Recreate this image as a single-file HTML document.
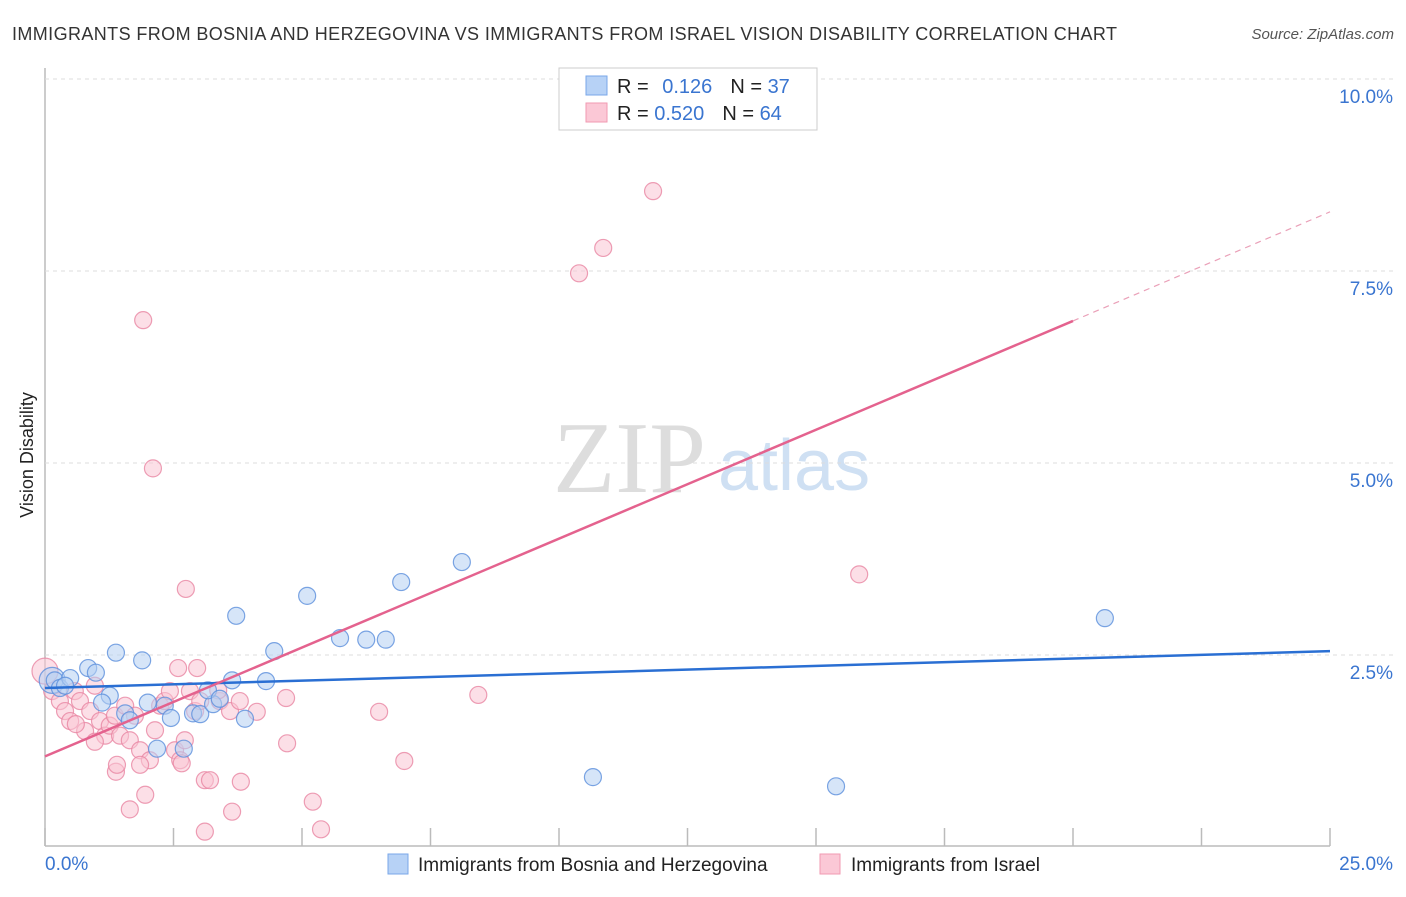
<!DOCTYPE html>
<html><head><meta charset="utf-8"><style>
body{margin:0;background:#fff;font-family:"Liberation Sans",sans-serif}
</style></head><body>
<svg id="c" width="1406" height="892" xmlns="http://www.w3.org/2000/svg" style="font-family:'Liberation Sans',sans-serif">
<text x="12" y="40" font-size="18" fill="#333" textLength="1105">IMMIGRANTS FROM BOSNIA AND HERZEGOVINA VS IMMIGRANTS FROM ISRAEL VISION DISABILITY CORRELATION CHART</text>
<text x="1394" y="39" font-size="15" fill="#555" font-style="italic" text-anchor="end">Source: ZipAtlas.com</text>
<text x="33" y="455" font-size="18" fill="#222" text-anchor="middle" transform="rotate(-90 33 455)">Vision Disability</text>
<text x="553" y="492" font-size="102" fill="#ddd" font-family="Liberation Serif">ZIP</text>
<text x="718" y="490" font-size="72" fill="#cfe0f3">atlas</text>
<g id="grid"></g><g id="pts"></g><g id="lines"></g>
<rect x="559" y="68" width="258" height="62" fill="#fff" stroke="#ccc"/>
<rect x="586" y="76" width="21" height="19" fill="#b7d2f6" stroke="#7aa7e8"/>
<rect x="586" y="103" width="21" height="19" fill="#fbc8d6" stroke="#f09ab2"/>
<text x="617" y="93" font-size="20" fill="#222">R = <tspan fill="#3a75d0" dx="8">0.126</tspan><tspan fill="#222" dx="18">N = </tspan><tspan fill="#3a75d0">37</tspan></text>
<text x="617" y="120" font-size="20" fill="#222">R = <tspan fill="#3a75d0">0.520</tspan><tspan fill="#222" dx="18">N = </tspan><tspan fill="#3a75d0">64</tspan></text>
<rect x="388" y="854" width="20" height="20" fill="#b7d2f6" stroke="#7aa7e8"/>
<text x="418" y="871" font-size="19" fill="#222">Immigrants from Bosnia and Herzegovina</text>
<rect x="820" y="854" width="20" height="20" fill="#fbc8d6" stroke="#f09ab2"/>
<text x="851" y="871" font-size="19" fill="#222">Immigrants from Israel</text>
</svg>
<script>
const yTicks=[2.5,5,7.5,10];
const yTickLabels=["2.5%","5.0%","7.5%","10.0%"];
const xTickLabels=["0.0%","25.0%"];
const blueX=[0.14,0.19,0.29,0.49,0.39,0.84,0.99,1.38,1.89,1.26,1.11,1.56,1.65,2.00,2.33,2.45,2.18,2.70,2.88,3.02,3.27,3.17,3.40,3.64,3.89,3.72,4.30,4.46,5.10,5.74,6.25,6.63,6.93,8.11,10.66,15.39,20.62];
const blueY=[2.17,2.17,2.07,2.20,2.10,2.33,2.27,2.53,2.43,1.97,1.88,1.74,1.65,1.88,1.84,1.68,1.28,1.28,1.74,1.73,1.86,2.04,1.93,2.17,1.67,3.01,2.16,2.55,3.27,2.72,2.70,2.70,3.45,3.71,0.91,0.79,2.98];
const pinkX=[0.0,0.14,0.29,0.39,0.49,0.58,0.68,0.78,0.88,0.97,1.07,1.17,1.26,1.36,1.46,1.56,1.65,1.75,1.85,2.04,2.14,2.24,2.33,2.43,2.53,2.63,2.72,2.82,2.92,3.02,3.11,3.21,3.40,3.60,3.79,3.81,3.64,3.11,1.65,1.95,1.38,1.91,2.10,2.74,2.59,2.96,3.37,4.12,4.69,4.71,5.21,5.37,6.50,6.99,8.43,10.39,10.86,11.83,15.84,1.40,1.85,2.66,0.97,0.6];
const pinkY=[2.29,2.03,1.90,1.77,1.64,2.03,1.90,1.51,1.77,2.10,1.64,1.45,1.58,1.71,1.45,1.84,1.39,1.71,1.26,1.13,1.52,1.84,1.90,2.03,1.26,1.13,1.39,2.03,1.77,1.90,0.87,0.87,1.90,1.77,1.90,0.85,0.46,0.20,0.49,0.68,0.98,6.86,4.93,3.36,2.33,2.33,2.04,1.76,1.94,1.35,0.59,0.23,1.76,1.12,1.98,7.47,7.80,8.54,3.55,1.07,1.07,1.09,1.37,1.60];
const blueLine=[[0,2.07],[25,2.55]];
const pinkLine=[[0,1.18],[20,6.85],[25,8.27]];
const X=v=>45+v/25*1285, Y=v=>847-v/10*768;
const NS="http://www.w3.org/2000/svg";
function mk(t,a,p){const e=document.createElementNS(NS,t);for(const k in a)e.setAttribute(k,a[k]);p.appendChild(e);return e;}
const svg=document.getElementById('c'),grid=document.getElementById('grid'),pts=document.getElementById('pts'),lines=document.getElementById('lines');
let ax=mk('line',{x1:45,y1:68,x2:45,y2:846,stroke:'#bbb','stroke-width':1.5},grid);


let bx=mk('line',{x1:45,y1:846,x2:1330,y2:846,stroke:'#bbb','stroke-width':1.5},grid);


yTicks.forEach((v,i)=>{
 const g=mk('line',{x1:45,y1:Y(v),x2:1395,y2:Y(v),stroke:'#ddd','stroke-dasharray':'4 4'},grid);
 
 
 const t=mk('text',{x:1393,y:Y(v)+24,'font-size':19,fill:'#3a75d0','text-anchor':'end'},grid);
 t.textContent=yTickLabels[i];
 
 
});
for(let i=0;i<=10;i++){const v=i*2.5;
 const tk=mk('line',{x1:X(v),y1:828,x2:X(v),y2:846,stroke:'#bbb','stroke-width':1.5},grid);
 
 }
[[0,45,'start'],[25,1393,'end']].forEach((d,i)=>{
 const t=mk('text',{x:d[1],y:870,'font-size':19,fill:'#3a75d0','text-anchor':d[2]},grid);
 t.textContent=xTickLabels[i];
 
 });
function dots(xs,ys,fill,stroke,name){xs.forEach((x,i)=>{
 const r=(i===0)?13:8.5;
 const c=mk('circle',{cx:X(x),cy:Y(ys[i]),r:r,fill:fill,'fill-opacity':0.55,stroke:stroke,'stroke-width':1.2,'stroke-opacity':0.8},pts);
 
 });}
dots(pinkX,pinkY,'#f9c4d3','#e986a3','israel-point');
dots(blueX,blueY,'#b5cff3','#5b8fdc','bosnia-point');
let bl=mk('line',{x1:X(blueLine[0][0]),y1:Y(blueLine[0][1]),x2:X(blueLine[1][0]),y2:Y(blueLine[1][1]),stroke:'#2a6fd3','stroke-width':2.5},lines);


let pl=mk('line',{x1:X(pinkLine[0][0]),y1:Y(pinkLine[0][1]),x2:X(pinkLine[1][0]),y2:Y(pinkLine[1][1]),stroke:'#e4628e','stroke-width':2.5},lines);


let pd=mk('line',{x1:X(pinkLine[1][0]),y1:Y(pinkLine[1][1]),x2:X(pinkLine[2][0]),y2:Y(pinkLine[2][1]),stroke:'#eaa0b8','stroke-width':1.2,'stroke-dasharray':'6 5'},lines);


</script>
</body></html>
